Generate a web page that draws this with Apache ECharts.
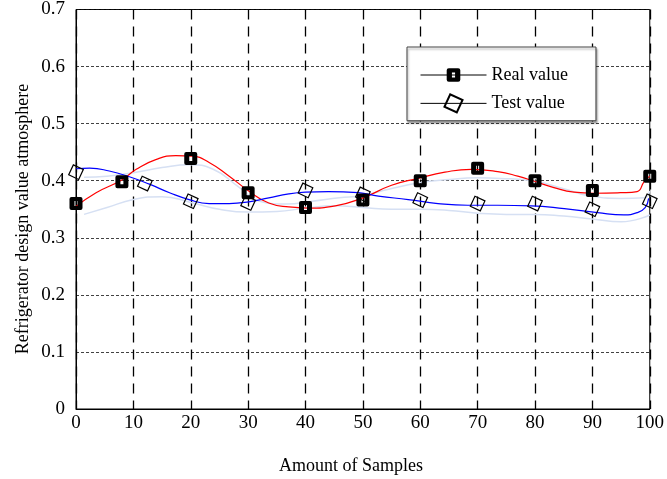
<!DOCTYPE html>
<html>
<head>
<meta charset="utf-8">
<script src="https://cdn.jsdelivr.net/npm/echarts@6/dist/echarts.min.js"></script>
<style>
html,body{margin:0;padding:0;background:#fff;}
#chart{width:667px;height:479px;}
</style>
</head>
<body>
<div id="chart"></div>
<script>
// ---- data ----
var xTicks = [0, 10, 20, 30, 40, 50, 60, 70, 80, 90, 100];
var yTicks = [0, 0.1, 0.2, 0.3, 0.4, 0.5, 0.6, 0.7];

var realX = [0, 8, 20, 30, 40, 50, 60, 70, 80, 90, 100];
var realY = [0.360, 0.398, 0.439, 0.379, 0.353, 0.366, 0.400, 0.422, 0.400, 0.383, 0.408];

var testX = [0, 12, 20, 30, 40, 50, 60, 70, 80, 90, 100];
var testY = [0.415, 0.395, 0.364, 0.361, 0.383, 0.376, 0.366, 0.360, 0.360, 0.350, 0.364];

// fitted curves
var realCurveX = [0, 3.5, 7.9, 10.5, 13.9, 17.4, 20.3, 23.2, 26.7, 30.1, 33.6, 37.1, 40.5, 45.2, 50, 55, 59.6, 64.3, 68.9, 73.5, 77, 79.9, 83.3, 86.8, 90.3, 94.9, 97.8, 99, 100];
var realCurveY = [0.355, 0.379, 0.401, 0.420, 0.437, 0.444, 0.443, 0.432, 0.408, 0.382, 0.361, 0.354, 0.352, 0.356, 0.370, 0.392, 0.404, 0.415, 0.420, 0.416, 0.408, 0.399, 0.388, 0.380, 0.378, 0.379, 0.381, 0.398, 0.408];

var testCurveX = [0, 2.4, 5.8, 9.3, 12.8, 16.3, 19.7, 23.2, 26.7, 30.1, 33.6, 37.1, 40, 44, 49.2, 52.7, 57.9, 63.1, 68.3, 73.5, 79.3, 85.1, 90.9, 95.5, 97.8, 99.2, 99.8];
var testCurveY = [0.421, 0.422, 0.417, 0.407, 0.394, 0.379, 0.367, 0.360, 0.360, 0.363, 0.370, 0.377, 0.380, 0.381, 0.379, 0.373, 0.367, 0.360, 0.357, 0.357, 0.356, 0.351, 0.344, 0.340, 0.344, 0.353, 0.369];

var bandUpperX = [1.4, 5.4, 10, 15, 19.8, 23.9, 28.5, 32, 36.6, 41.2, 45.9, 49.9, 54.5, 59.6, 65, 70, 74, 79.9, 85, 89.7, 95, 99, 100];
var bandUpperY = [0.406, 0.408, 0.414, 0.423, 0.428, 0.420, 0.388, 0.364, 0.359, 0.364, 0.370, 0.374, 0.385, 0.396, 0.402, 0.405, 0.404, 0.399, 0.386, 0.373, 0.369, 0.370, 0.382];

var bandLowerX = [1.4, 5.4, 10, 15, 20, 25, 30, 35, 40, 45, 50, 55, 60, 65, 70, 75, 80, 85, 90, 95, 100];
var bandLowerY = [0.341, 0.353, 0.367, 0.372, 0.362, 0.350, 0.345, 0.346, 0.352, 0.356, 0.353, 0.350, 0.350, 0.348, 0.343, 0.341, 0.341, 0.338, 0.333, 0.328, 0.340];

function pairs(xs, ys) { return xs.map(function (x, i) { return [x, ys[i]]; }); }

var FONT = '"Liberation Serif", "Times New Roman", serif';
var squareSym = 'path://M2,0 L11,0 Q13,0 13,2 L13,11 Q13,13 11,13 L2,13 Q0,13 0,11 L0,2 Q0,0 2,0 Z M5,4 L5,9 L8,9 L8,4 Z';

var chart = echarts.init(document.getElementById('chart'), null, {renderer: 'canvas'});
chart.setOption({
  animation: false,
  backgroundColor: '#fff',
  grid: {left: 76, right: 15, top: 7, bottom: 70, show: true, borderColor: '#000', borderWidth: 1, backgroundColor: 'transparent'},
  xAxis: {
    type: 'value', min: xTicks[0], max: xTicks[xTicks.length - 1], interval: 10,
    axisLine: {show: true, lineStyle: {color: '#000', width: 1}},
    axisTick: {show: false},
    axisLabel: {color: '#000', fontFamily: FONT, fontSize: 19, margin: 5},
    splitLine: {show: true, lineStyle: {color: '#000', width: 1.3, type: [10, 7]}}
  },
  yAxis: {
    type: 'value', min: yTicks[0], max: yTicks[yTicks.length - 1], interval: 0.1,
    axisLine: {show: true, lineStyle: {color: '#000', width: 1}},
    axisTick: {show: false},
    axisLabel: {color: '#000', fontFamily: FONT, fontSize: 19, margin: 11},
    splitLine: {show: true, lineStyle: {color: '#111', width: 0.8, type: [3, 2]}}
  },
  legend: {
    left: 407, top: 47,
    orient: 'vertical',
    padding: [19, 28, 7, 13],
    itemWidth: 66, itemHeight: 17, itemGap: 9,
    backgroundColor: '#fff',
    borderColor: '#444', borderWidth: 1, borderRadius: 0,
    shadowColor: 'rgba(0,0,0,0.35)', shadowBlur: 2, shadowOffsetX: 1, shadowOffsetY: 2,
    textStyle: {color: '#000', fontFamily: FONT, fontSize: 18},
    data: [
      {name: 'Real value', lineStyle: {color: '#000', width: 1, opacity: 1, type: 'solid'}},
      {name: 'Test value', lineStyle: {color: '#000', width: 1, opacity: 1, type: 'solid'}}
    ]
  },
  graphic: [
    {type: 'text', x: 23, y: 219, rotation: Math.PI / 2,
     style: {text: 'Refrigerator design value atmosphere', font: '18px ' + FONT, fill: '#000', align: 'center', verticalAlign: 'middle'}},
    {type: 'text', x: 351, y: 466,
     style: {text: 'Amount of Samples', font: '18px ' + FONT, fill: '#000', align: 'center', verticalAlign: 'middle'}}
  ],
  series: [
    {type: 'line', name: 'bandUpper', data: pairs(bandUpperX, bandUpperY), smooth: true, showSymbol: false, silent: true,
     lineStyle: {color: '#d6e0f3', width: 1.5}, z: 2},
    {type: 'line', name: 'bandLower', data: pairs(bandLowerX, bandLowerY), smooth: true, showSymbol: false, silent: true,
     lineStyle: {color: '#d6e0f3', width: 1.5}, z: 2},
    {type: 'line', name: 'realCurve', data: pairs(realCurveX, realCurveY), smooth: true, showSymbol: false, silent: true,
     lineStyle: {color: '#ff0000', width: 1.2}, z: 3},
    {type: 'line', name: 'testCurve', data: pairs(testCurveX, testCurveY), smooth: true, showSymbol: false, silent: true,
     lineStyle: {color: '#0000ff', width: 1.2}, z: 3},
    {type: 'line', name: 'Real value', data: pairs(realX, realY), symbol: squareSym, symbolSize: 13,
     lineStyle: {opacity: 0, width: 0}, itemStyle: {color: '#000', borderWidth: 0}, z: 5},
    {type: 'line', name: 'Test value', data: pairs(testX, testY), symbol: 'rect', symbolSize: 11, symbolRotate: -25,
     lineStyle: {opacity: 0, width: 0}, itemStyle: {color: 'rgba(255,255,255,0)', borderColor: '#000', borderWidth: 1.2}, z: 6}
  ]
});
</script>
</body>
</html>
